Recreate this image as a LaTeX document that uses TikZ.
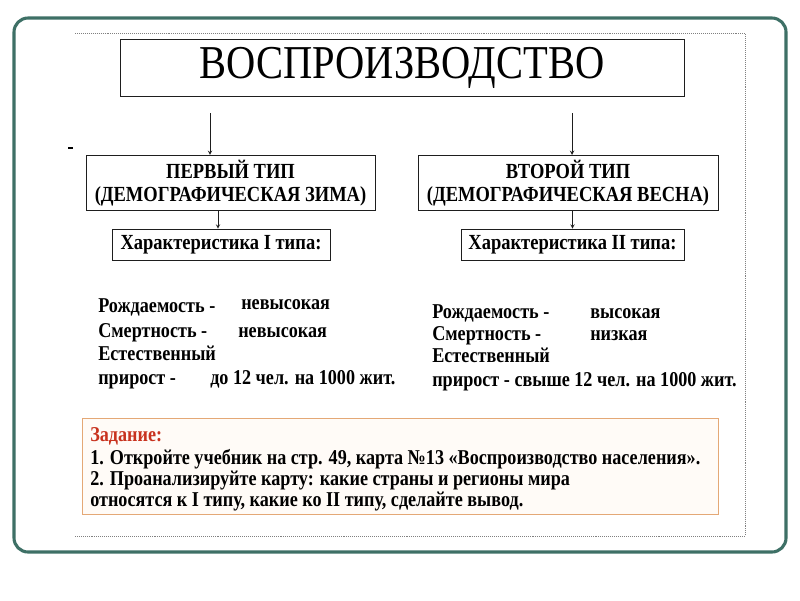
\documentclass[tikz,border=0pt]{standalone}
\usepackage{fontspec}
\setmainfont{Liberation Serif}[FakeStretch=0.86]
\usetikzlibrary{positioning}
\definecolor{frameteal}{RGB}{62, 112, 102}
\definecolor{taskorange}{RGB}{228, 168, 118}
\definecolor{taskred}{RGB}{200, 50, 30}
\definecolor{inkdark}{RGB}{30, 30, 30}
\tikzstyle{arrow}=[->, >=stealth, color=inkdark]
\tikzstyle{typebox}=[draw=inkdark, fill=white, font=\bfseries\fontsize{15.3}{16.5}\selectfont, align=center]
\tikzstyle{body}=[anchor=base west, inner sep=0pt, font=\bfseries\fontsize{15}{16}\selectfont]

\begin{document}
\begin{tikzpicture}[x=0.025cm, y=-0.025cm]
    \useasboundingbox (0,0) rectangle (800,600);
    % Frames
    \draw[frameteal, line width=2.2pt, rounded corners=10pt, fill=white] (14,18) rectangle (786,552);
    \draw[gray, densely dotted] (75,33) -- (745,33) -- (745,536) -- (75,536);
    \fill (68,147) rectangle (73,149);

    % Title
    \node[draw=inkdark, minimum width=564*0.025cm, minimum height=57*0.025cm,
          font=\fontsize{33.5}{35}\selectfont] (title) at (402,68) {ВОСПРОИЗВОДСТВО};

    % Types
    \node[typebox, minimum width=289*0.025cm, minimum height=54*0.025cm] (first) at (230.5,183) {ПЕРВЫЙ ТИП\\(ДЕМОГРАФИЧЕСКАЯ ЗИМА)};
    \node[typebox, minimum width=300*0.025cm, minimum height=54*0.025cm] (second) at (568,183) {ВТОРОЙ ТИП\\(ДЕМОГРАФИЧЕСКАЯ ВЕСНА)};
    \node[typebox, minimum width=218*0.025cm, minimum height=31*0.025cm] (charone) at (221,244.5) {Характеристика I типа:};
    \node[typebox, minimum width=223*0.025cm, minimum height=31*0.025cm] (chartwo) at (572.5,244.5) {Характеристика II типа:};

    \coordinate (ta) at (210,113);
    \coordinate (tb) at (572,113);
    \draw[arrow] (ta) -- (ta |- first.north);
    \draw[arrow] (tb) -- (tb |- second.north);
    \draw[arrow] (first.south -| charone.north) ++(-3,0) coordinate (fa) -- (fa |- charone.north);
    \draw[arrow] (second.south -| chartwo.north) -- (chartwo.north);

    % Characteristics I
    \node[body] (b1) at (98,312) {Рождаемость -};
    \node[body] (b1v) at (241,309) {невысокая};
    \node[body] (d1) at (98,337) {Смертность -};
    \node[body] (d1v) at (238,337) {невысокая};
    \node[body] (e1) at (98,360) {Естественный};
    \node[body] (g1) at (98,384) {прирост -};
    \node[body] (g1v) at (210,384) {до 12 чел. на 1000 жит.};

    % Characteristics II
    \node[body] (b2) at (432,318) {Рождаемость -};
    \node[body] (b2v) at (590,318) {высокая};
    \node[body] (d2) at (432,340) {Смертность -};
    \node[body] (d2v) at (590,340) {низкая};
    \node[body] (e2) at (432,362) {Естественный};
    \node[body] (g2) at (432,386) {прирост - свыше 12 чел. на 1000 жит.};

    % Task
    \node[draw=taskorange, fill=orange!3, minimum width=636*0.025cm, minimum height=96*0.025cm] (task) at (400,466) {};
    \node[body, text=taskred] (t0) at (90,441) {Задание:};
    \node[body] (t1) at (90,464) {1. Откройте учебник на стр. 49, карта №13 «Воспроизводство населения».};
    \node[body] (t2) at (90,485) {2. Проанализируйте карту: какие страны и регионы мира};
    \node[body] (t3) at (90,506) {относятся к I типу, какие ко II типу, сделайте вывод.};
\end{tikzpicture}
\end{document}
